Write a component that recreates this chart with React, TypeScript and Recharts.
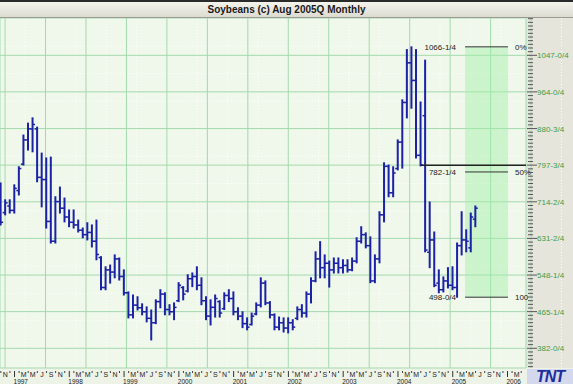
import React from "react";
import {
    ComposedChart,
    Bar,
    XAxis,
    YAxis,
    CartesianGrid,
    ReferenceArea,
    ReferenceLine,
} from "recharts";

// monthly bars, Oct 1996 .. Jun 2005
const MONTHS = [
    "1996-10", "1996-11", "1996-12",
    "1997-01", "1997-02", "1997-03", "1997-04", "1997-05", "1997-06", "1997-07", "1997-08", "1997-09", "1997-10", "1997-11", "1997-12",
    "1998-01", "1998-02", "1998-03", "1998-04", "1998-05", "1998-06", "1998-07", "1998-08", "1998-09", "1998-10", "1998-11", "1998-12",
    "1999-01", "1999-02", "1999-03", "1999-04", "1999-05", "1999-06", "1999-07", "1999-08", "1999-09", "1999-10", "1999-11", "1999-12",
    "2000-01", "2000-02", "2000-03", "2000-04", "2000-05", "2000-06", "2000-07", "2000-08", "2000-09", "2000-10", "2000-11", "2000-12",
    "2001-01", "2001-02", "2001-03", "2001-04", "2001-05", "2001-06", "2001-07", "2001-08", "2001-09", "2001-10", "2001-11", "2001-12",
    "2002-01", "2002-02", "2002-03", "2002-04", "2002-05", "2002-06", "2002-07", "2002-08", "2002-09", "2002-10", "2002-11", "2002-12",
    "2003-01", "2003-02", "2003-03", "2003-04", "2003-05", "2003-06", "2003-07", "2003-08", "2003-09", "2003-10", "2003-11", "2003-12",
    "2004-01", "2004-02", "2004-03", "2004-04", "2004-05", "2004-06", "2004-07", "2004-08", "2004-09", "2004-10", "2004-11", "2004-12",
    "2005-01", "2005-02", "2005-03", "2005-04", "2005-05", "2005-06",
];

const OPEN = [
    720, 690, 705,
    695, 740, 800, 855, 880, 880, 770, 765, 670, 625, 715, 700,
    680, 668, 662, 650, 640, 645, 625, 588, 520, 560, 555, 585,
    545, 508, 458, 480, 474, 465, 450, 440, 488, 505, 470, 465,
    490, 520, 512, 540, 545, 525, 490, 455, 475, 488, 472, 502,
    495, 465, 455, 438, 436, 460, 480, 530, 485, 458, 430, 440,
    428, 440, 450, 470, 462, 505, 535, 585, 565, 575, 560, 575,
    565, 570, 560, 580, 625, 640, 615, 535, 585, 685, 795, 735,
    790, 850, 940, 1030, 990, 820, 910, 600, 628, 530, 515, 535,
    525, 520, 615, 628, 610, 675,
];

const HIGH = [
    757, 719, 719,
    753, 794, 866, 893, 905, 884, 825, 814, 816, 726, 748, 723,
    696, 696, 673, 655, 667, 662, 673, 590, 567, 571, 594, 587,
    560, 510, 503, 499, 483, 476, 469, 492, 515, 508, 481, 485,
    531, 522, 549, 553, 567, 542, 499, 492, 503, 490, 508, 515,
    510, 474, 465, 451, 462, 485, 542, 535, 488, 460, 453, 451,
    451, 447, 476, 481, 510, 542, 601, 624, 594, 580, 587, 587,
    583, 583, 587, 633, 658, 644, 635, 594, 692, 803, 798, 794,
    855, 946, 1060, 1066.25, 1060, 941, 1036, 714, 646, 560, 544, 565,
    567, 621, 692, 651, 689, 705,
];

const LOW = [
    662, 685, 689,
    689, 730, 798, 832, 828, 760, 703, 655, 621, 621, 689, 669,
    658, 655, 646, 633, 628, 612, 583, 515, 515, 530, 542, 537,
    503, 451, 451, 469, 458, 442, 401, 438, 474, 458, 458, 447,
    488, 492, 510, 522, 515, 481, 447, 435, 453, 453, 470, 488,
    458, 447, 429, 424, 435, 458, 476, 481, 451, 424, 424, 419,
    417, 424, 447, 453, 453, 485, 533, 542, 542, 521, 553, 553,
    553, 555, 558, 576, 621, 610, 531, 531, 576, 669, 726, 726,
    787, 791, 905, 927, 814, 796, 601, 565, 522, 508, 510, 519,
    515, 498, 594, 601, 601, 658,
];

const CLOSE = [
    668, 712, 695,
    745, 790, 855, 880, 890, 770, 765, 670, 625, 715, 700, 680,
    668, 662, 650, 640, 645, 625, 595, 520, 560, 555, 585, 545,
    508, 458, 480, 474, 465, 450, 440, 488, 505, 470, 465, 475,
    525, 505, 540, 545, 525, 490, 455, 475, 495, 462, 502, 495,
    465, 455, 438, 430, 455, 480, 530, 485, 458, 430, 440, 428,
    440, 430, 470, 462, 505, 535, 585, 565, 575, 560, 575, 565,
    570, 560, 580, 625, 640, 615, 535, 585, 685, 795, 735, 780,
    850, 940, 1030, 990, 820, 797.75, 605, 628, 525, 515, 535, 525,
    520, 615, 628, 625, 680, 700,
];

const PRICE_TICKS = [382, 465.25, 548.25, 631.5, 714.5, 797.75, 880.75, 964, 1047];
const PRICE_LABELS = [
    "382-0/4", "465-1/4", "548-1/4", "631-2/4", "714-2/4",
    "797-3/4", "880-3/4", "964-0/4", "1047-0/4",
];
const YEARS = ["1997", "1998", "1999", "2000", "2001", "2002", "2003", "2004", "2005", "2006"];
const MONTH_MARKS = ["|", "'", "M", "'", "M", "'", "J", "'", "S", "'", "N", "'"];

// retracement drawn on the chart
const FIB_LEVELS = [1066.25, 782.25, 498];
const FIB_PRICES = ["1066-1/4", "782-1/4", "498-0/4"];
const FIB_PCTS = ["0%", "50%", "100"];
const MARK_LEVEL = 797.75;
const MARK_FROM = "2004-06";

// layout
const W = 573;
const H = 384;
const AXIS_TOP = 368; // bottom of the plot area
const X_DOMAIN: [number, number] = [-3.18, 112.05];
const Y_DOMAIN: [number, number] = [337.3, 1131.7];
const FIB_X: [number, number] = [98.7, 108.1];
const BAR = "#1c22a6";

const monthIndex = (m: string) => {
    const [y, mo] = m.split("-").map(Number);
    return (y - 1997) * 12 + mo - 1;
};

const data = MONTHS.map((m, i) => ({
    t: monthIndex(m),
    range: [LOW[i], HIGH[i]],
    open: OPEN[i],
    high: HIGH[i],
    low: LOW[i],
    close: CLOSE[i],
}));

const X_TICKS = Array.from({ length: 115 }, (_, i) => i - 3);
const GRID_X_MAJOR = Array.from({ length: 14 }, (_, k) => 1 + 8 * k);
const GRID_X_MINOR = Array.from({ length: 58 }, (_, k) => -3 + 2 * k);

const STEP = (PRICE_TICKS[8] - PRICE_TICKS[0]) / 8;
const subTicks = (div: number) => {
    const out: number[] = [];
    for (let v = PRICE_TICKS[0] - STEP; v < Y_DOMAIN[1]; v += STEP / div) {
        if (v > Y_DOMAIN[0]) out.push(+v.toFixed(3));
    }
    return out;
};
const GRID_Y_MINOR = subTicks(4);
const AXIS_TICKS = [
    ...PRICE_TICKS,
    ...subTicks(10).filter((v) => !PRICE_TICKS.some((p) => Math.abs(p - v) < 1.5)),
].sort((a, b) => a - b);

const OhlcShape = (props: any) => {
    const { x, y, width, height, payload } = props;
    if (!payload || height == null) return null;
    const cx = x + width / 2;
    const top = Math.min(y, y + height);
    const bot = Math.max(y, y + height);
    const span = payload.high - payload.low || 1;
    const py = (v: number) => top + ((payload.high - v) / span) * (bot - top);
    return (
        <g stroke={BAR}>
            <line x1={cx} x2={cx} y1={top - 0.5} y2={bot + 0.5} strokeWidth={2} />
            <line x1={cx - 2.5} x2={cx} y1={py(payload.open)} y2={py(payload.open)} strokeWidth={1.5} />
            <line x1={cx} x2={cx + 2.5} y1={py(payload.close)} y2={py(payload.close)} strokeWidth={1.5} />
        </g>
    );
};

const PriceTick = ({ x, y, payload }: any) => {
    const i = PRICE_TICKS.findIndex((p) => Math.abs(p - payload.value) < 0.01);
    if (i < 0) {
        return <line x1={x + 2} x2={x + 7} y1={y} y2={y} stroke="#555" />;
    }
    return (
        <g>
            <line x1={x + 1} x2={x + 11} y1={y} y2={y} stroke="#555" />
            <text x={x + 11} y={y + 3} fontSize={8} fill="#3d9c48">
                {PRICE_LABELS[i]}
            </text>
        </g>
    );
};

const MonthTick = ({ x, payload }: any) => {
    const t = payload.value;
    const m = ((t % 12) + 12) % 12;
    const yr = Math.floor(t / 12);
    const mark = MONTH_MARKS[m];
    const y = AXIS_TOP;
    return (
        <g>
            {mark === "'" ? (
                <line x1={x} x2={x} y1={y + 3} y2={y + 5} stroke="#444" />
            ) : mark === "|" ? (
                <line x1={x} x2={x} y1={y + 3} y2={y + 9} stroke="#333" />
            ) : (
                <text x={x} y={y + 9} textAnchor="middle" fontSize={7} fill="#222">
                    {mark}
                </text>
            )}
            {m === 0 && YEARS[yr] && (
                <text x={x - 1} y={y + 15.5} fontSize={6.5} fill="#222">
                    {YEARS[yr]}
                </text>
            )}
        </g>
    );
};

const FibLabel = ({ viewBox, left, right }: any) => {
    if (!viewBox) return null;
    const { x, y, width } = viewBox;
    return (
        <g fontSize={8} fill="#222">
            <text x={x - 9} y={y + 3} textAnchor="end">
                {left}
            </text>
            <text x={x + width + 7} y={y + 3}>
                {right}
            </text>
        </g>
    );
};

export default function App() {
    return (
        <div
            style={{
                position: "absolute",
                left: 0,
                top: 0,
                width: W,
                height: H,
                overflow: "hidden",
                background: "#eef3e7",
                fontFamily: "'Liberation Sans', Arial, sans-serif",
            }}
        >
            <div
                style={{
                    position: "absolute",
                    left: 526,
                    top: 18,
                    width: 47,
                    height: 350,
                    background: "#e5e5dc",
                }}
            />
            <div style={{ position: "absolute", left: 0, top: 0 }}>
                <ComposedChart
                    width={W}
                    height={H}
                    data={data}
                    margin={{ top: 18, right: 0, bottom: 0, left: 0 }}
                >
                    <XAxis
                        xAxisId="m"
                        dataKey="t"
                        type="number"
                        domain={X_DOMAIN}
                        allowDataOverflow
                        ticks={X_TICKS}
                        interval={0}
                        height={16}
                        tickSize={0}
                        tickMargin={0}
                        axisLine={false}
                        tickLine={false}
                        tick={<MonthTick />}
                    />
                    <XAxis xAxisId="gMaj" type="number" domain={X_DOMAIN} allowDataOverflow ticks={GRID_X_MAJOR} hide />
                    <XAxis xAxisId="gMin" type="number" domain={X_DOMAIN} allowDataOverflow ticks={GRID_X_MINOR} hide />
                    <YAxis
                        yAxisId="price"
                        orientation="right"
                        type="number"
                        domain={Y_DOMAIN}
                        allowDataOverflow
                        ticks={AXIS_TICKS}
                        interval={0}
                        width={47}
                        tickSize={0}
                        tickMargin={0}
                        axisLine={false}
                        tickLine={false}
                        tick={<PriceTick />}
                    />
                    <YAxis yAxisId="gMaj" type="number" domain={Y_DOMAIN} allowDataOverflow ticks={PRICE_TICKS} hide />
                    <YAxis yAxisId="gMin" type="number" domain={Y_DOMAIN} allowDataOverflow ticks={GRID_Y_MINOR} hide />

                    <CartesianGrid
                        xAxisId="gMin"
                        yAxisId="gMin"
                        fill="#eff8ea"
                        stroke="#ffffff"
                        strokeDasharray="1 2"
                    />
                    <CartesianGrid
                        xAxisId="gMaj"
                        yAxisId="gMaj"
                        fill="none"
                        stroke="#a3d9ad"
                    />

                    <ReferenceArea
                        xAxisId="m"
                        yAxisId="price"
                        x1={FIB_X[0]}
                        x2={FIB_X[1]}
                        y1={FIB_LEVELS[2]}
                        y2={FIB_LEVELS[0]}
                        fill="#9ff0a8"
                        fillOpacity={0.45}
                        stroke="none"
                    />
                    {FIB_LEVELS.map((lv, i) => (
                        <ReferenceLine
                            key={lv}
                            xAxisId="m"
                            yAxisId="price"
                            segment={[
                                { x: FIB_X[0], y: lv },
                                { x: FIB_X[1], y: lv },
                            ]}
                            stroke="#333"
                            strokeWidth={1}
                            ifOverflow="visible"
                            label={<FibLabel left={FIB_PRICES[i]} right={FIB_PCTS[i]} />}
                        />
                    ))}
                    <ReferenceLine
                        xAxisId="m"
                        yAxisId="price"
                        segment={[
                            { x: monthIndex(MARK_FROM), y: MARK_LEVEL },
                            { x: X_DOMAIN[1], y: MARK_LEVEL },
                        ]}
                        stroke="#222"
                        strokeWidth={1.5}
                        ifOverflow="visible"
                    />

                    <Bar
                        xAxisId="m"
                        yAxisId="price"
                        dataKey="range"
                        barSize={6}
                        shape={<OhlcShape />}
                        isAnimationActive={false}
                    />
                </ComposedChart>
            </div>
            <div
                style={{
                    position: "absolute",
                    left: 0,
                    top: 0,
                    width: W,
                    height: 18,
                    boxSizing: "border-box",
                    borderTop: "2px solid #2a2a2a",
                    borderBottom: "1px solid #9a9a90",
                    background: "linear-gradient(#f4f4ee, #dcdcd2)",
                    textAlign: "center",
                    fontWeight: "bold",
                    fontSize: 10,
                    lineHeight: "15px",
                    color: "#1a1a1a",
                }}
            >
                Soybeans (c) Aug 2005Q Monthly
            </div>
            <div
                style={{
                    position: "absolute",
                    left: 527,
                    top: 369,
                    width: 46,
                    height: 15,
                    background: "#d3d8ec",
                    color: "#1e2c9c",
                    fontWeight: 900,
                    fontStyle: "italic",
                    fontSize: 16,
                    lineHeight: "15px",
                    textAlign: "center",
                    letterSpacing: -1,
                    overflow: "hidden",
                }}
            >
                TNT
            </div>
        </div>
    );
}
